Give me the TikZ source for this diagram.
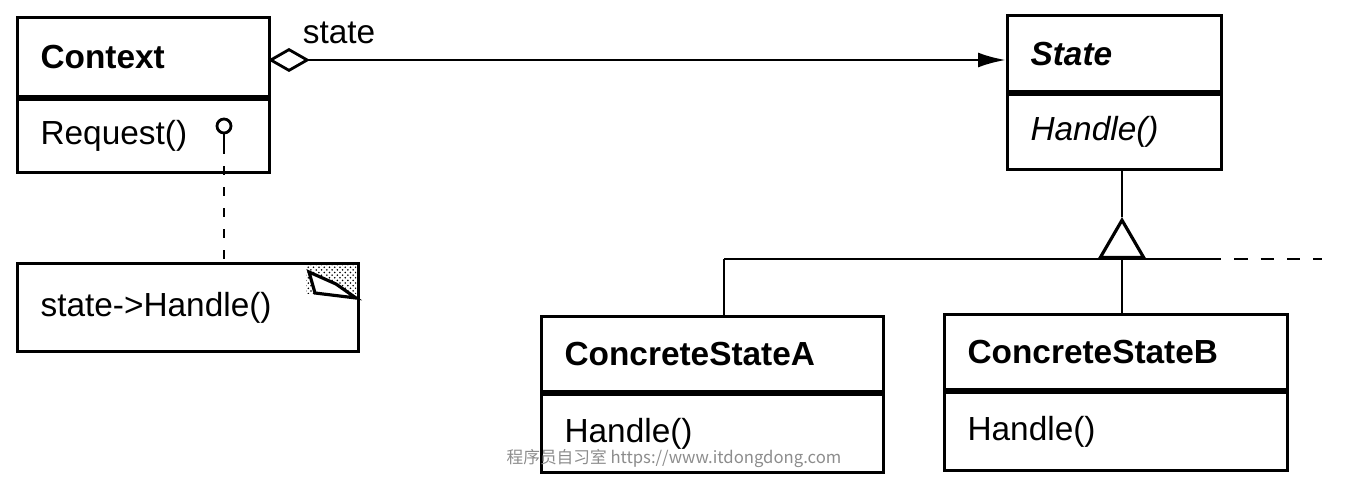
\documentclass[tikz,border=0pt]{standalone}
\usepackage{fontspec}
\setmainfont{Liberation Sans}
\newfontfamily\cjk{Noto Sans CJK SC}
\usetikzlibrary{arrows.meta,patterns}
\newcommand\umlfont{\fontsize{19}{22}\selectfont}
\tikzset{
  cls/.style={draw, line width=1.8pt, anchor=north west, inner xsep=0.46cm, inner ysep=0pt, align=left, font=\umlfont},
  conn/.style={line width=1.6pt},
}
\begin{document}
\begin{tikzpicture}[x=0.02cm, y=-0.02cm]
   \useasboundingbox (0,0) rectangle (1350,486);

   % classes
   \node[cls, text width=4.12cm, minimum height=1.58cm, font=\umlfont\bfseries] (ctx) at (16,16) {Context};
   \node[cls, text width=4.12cm, minimum height=1.46cm] (ctxops) at (ctx.south west) {Request()};
   \node[cls, text width=3.36cm, minimum height=1.52cm, font=\umlfont\bfseries\itshape] (st) at (1006,14) {State};
   \node[cls, text width=3.36cm, minimum height=1.5cm, font=\umlfont\itshape] (stops) at (st.south west) {Handle()};
   \node[cls, text width=5.92cm, minimum height=1.5cm, font=\umlfont\bfseries] (csa) at (540,315) {ConcreteStateA};
   \node[cls, text width=5.92cm, minimum height=1.56cm] (csaops) at (csa.south west) {Handle()};
   \node[cls, text width=5.94cm, minimum height=1.5cm, font=\umlfont\bfseries] (csb) at (943,313) {ConcreteStateB};
   \node[cls, text width=5.94cm, minimum height=1.56cm] (csbops) at (csb.south west) {Handle()};

   % note
   \node[cls, text width=5.9cm, minimum height=1.76cm] (note) at (16,262) {state->Handle()};
   \fill[pattern=crosshatch dots] (306,263) rectangle (356,294);
   \draw[line width=1.8pt, fill=white] (309,272) -- (336,284) -- (356,298) -- (315,293) -- cycle;

   % aggregation
   \coordinate (agg) at (268,60);
   \draw[conn, {Diamond[open, length=0.84cm, width=0.48cm]}-{Latex[length=0.56cm, width=0.3cm]}] (agg) -- (agg -| st.west);
   \node[font=\umlfont] (lbl) at (339,33) {state};

   % implementation note link
   \node[circle, draw, line width=1.6pt, minimum size=0.28cm, inner sep=0pt] (req) at (224,126) {};
   \coordinate (reqend) at (224,145);
   \draw[conn] (req.south) -- (reqend);
   \draw[line width=1.6pt, dash pattern=on 5pt off 7pt] (reqend) -- (reqend |- note.north);

   % inheritance
   \coordinate (apex) at (1122,217);
   \coordinate (base) at (1122,259);
   \coordinate (csaup) at (724,259);
   \coordinate (barend) at (1208,259);
   \coordinate (dashend) at (1322,259);
   \draw[conn] (stops.south -| apex) -- (apex);
   \draw[conn, -{Triangle[open, length=0.84cm, width=0.96cm, line width=1.8pt]}] (base) -- (apex);
   \draw[conn] (csaup) -- (barend);
   \draw[conn, dash pattern=on 7.5pt off 7.5pt] (barend) -- (dashend);
   \draw[conn] (csaup) -- (csaup |- csa.north);
   \draw[conn] (base) -- (base |- csb.north);

   \node[font=\cjk\fontsize{9.5}{11}\selectfont, text=black!45] (wm) at (674,458) {程序员自习室 https://www.itdongdong.com};
\end{tikzpicture}
\end{document}
